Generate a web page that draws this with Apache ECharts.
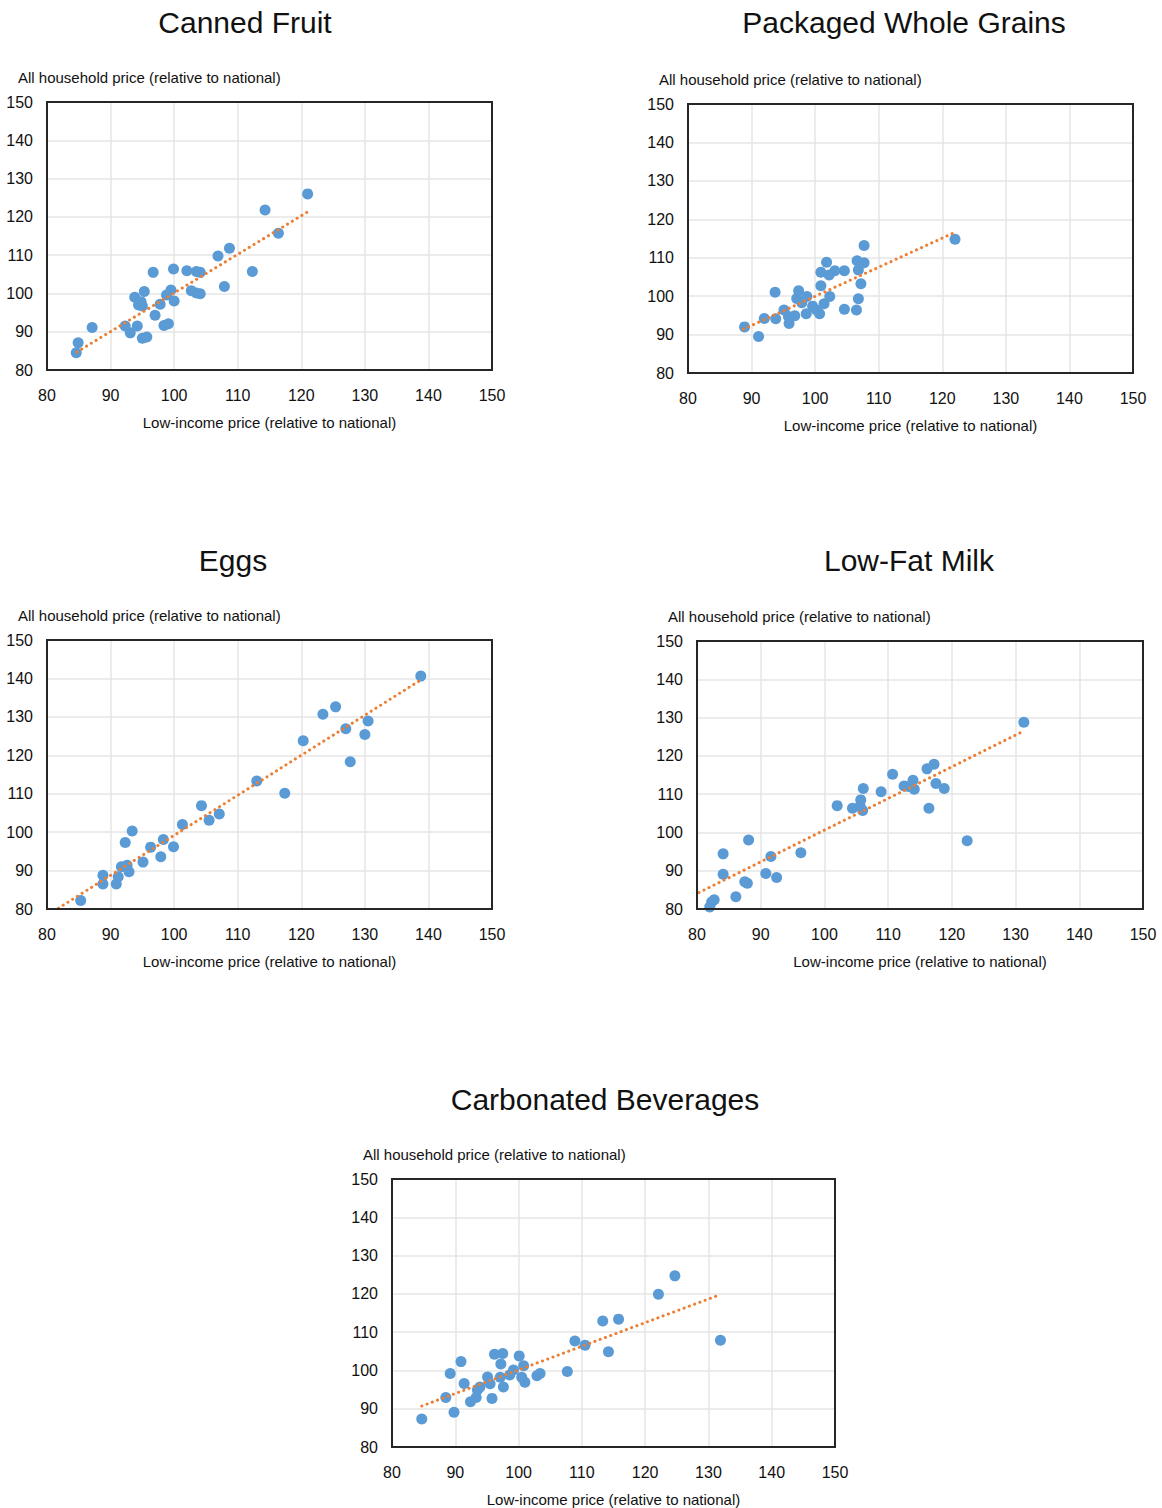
<!DOCTYPE html>
<html><head><meta charset="utf-8">
<script src="https://cdn.jsdelivr.net/npm/echarts@6/dist/echarts.min.js"></script>
<style>html,body{margin:0;padding:0;background:#fff}#c{width:1162px;height:1508px}</style>
</head><body><div id="c"></div>
<script>
// ---------- DATA ----------
const chartTitles = ['Canned Fruit', 'Packaged Whole Grains', 'Eggs', 'Low-Fat Milk', 'Carbonated Beverages'];
const xAxisName = 'Low-income price (relative to national)';
const yAxisName = 'All household price (relative to national)';
const tickLabels = [80, 90, 100, 110, 120, 130, 140, 150];

const cannedFruitX = [84.6, 84.9, 87.1, 92.3, 93.1, 94.2, 93.8, 94.4, 95.0, 94.8, 95.3, 95.0, 95.7, 96.7, 97.0, 97.8, 98.4, 99.1, 98.8, 99.5, 100.0, 99.9, 102.0, 103.5, 104.1, 102.7, 103.5, 104.1, 106.9, 108.7, 107.9, 112.3, 114.3, 116.4, 121.0];
const cannedFruitY = [84.5, 87.1, 91.1, 91.5, 89.7, 91.5, 99.0, 97.0, 96.7, 97.8, 100.5, 88.3, 88.6, 105.5, 94.3, 97.2, 91.6, 92.1, 99.6, 100.9, 98.0, 106.4, 105.9, 105.7, 105.5, 100.7, 100.1, 99.9, 109.8, 111.8, 101.8, 105.7, 121.8, 115.7, 126.0];
const cannedFruitTrend = [[84.7, 84.7], [121.0, 121.3]];

const wholeGrainsX = [88.9, 91.1, 92.0, 93.8, 93.7, 95.1, 95.8, 95.9, 96.8, 97.4, 97.1, 97.9, 98.7, 98.6, 99.6, 100.2, 100.7, 100.9, 100.9, 101.8, 102.2, 103.1, 104.6, 101.4, 102.3, 104.6, 106.5, 106.8, 107.2, 106.8, 106.6, 107.7, 107.7, 122.0];
const wholeGrainsY = [92.0, 89.5, 94.2, 94.1, 101.0, 96.4, 94.7, 92.9, 94.9, 101.4, 99.4, 98.3, 99.9, 95.4, 97.4, 96.4, 95.4, 102.7, 106.2, 108.8, 105.5, 106.6, 106.6, 98.0, 99.9, 96.6, 96.4, 99.3, 103.2, 106.8, 109.2, 108.7, 113.2, 114.8];
const wholeGrainsTrend = [[88.7, 91.4], [121.7, 116.4]];

const eggsX = [85.3, 88.8, 88.8, 90.9, 91.2, 91.7, 92.6, 92.9, 92.3, 93.4, 95.1, 96.3, 97.9, 98.3, 99.9, 101.3, 104.3, 105.5, 107.1, 113.0, 117.4, 120.3, 123.4, 125.4, 127.0, 127.7, 130.0, 130.5, 138.8];
const eggsY = [82.2, 88.8, 86.5, 86.5, 88.4, 91.0, 91.4, 89.7, 97.3, 100.3, 92.2, 96.1, 93.6, 98.1, 96.2, 102.0, 106.9, 103.1, 104.7, 113.3, 110.1, 123.8, 130.7, 132.6, 126.9, 118.3, 125.4, 128.9, 140.6];
const eggsTrend = [[81.8, 80.2], [138.8, 139.6]];

const lowFatMilkX = [82.0, 82.3, 82.7, 84.1, 84.1, 86.1, 87.5, 87.9, 88.1, 90.8, 91.6, 92.5, 96.3, 102.0, 104.4, 105.7, 105.6, 106.0, 106.1, 108.9, 110.7, 112.5, 113.9, 114.1, 113.2, 116.1, 117.2, 117.5, 118.8, 116.4, 122.4, 131.3];
const lowFatMilkY = [80.5, 81.8, 82.4, 94.4, 89.1, 83.2, 87.1, 86.7, 98.0, 89.3, 93.7, 88.2, 94.7, 107.0, 106.3, 108.5, 106.9, 105.7, 111.5, 110.6, 115.2, 112.1, 113.6, 111.3, 112.0, 116.6, 117.8, 112.8, 111.5, 106.3, 97.8, 128.8];
const lowFatMilkTrend = [[80.3, 84.3], [130.7, 126.0]];

const carbonatedX = [84.7, 88.5, 89.8, 89.2, 90.9, 91.4, 92.4, 93.3, 93.5, 93.9, 95.1, 95.5, 95.8, 96.2, 97.5, 97.2, 97.1, 97.6, 98.6, 99.2, 100.1, 100.8, 100.5, 101.0, 102.9, 103.4, 107.7, 108.9, 110.5, 113.3, 115.8, 114.2, 122.1, 124.7, 131.9];
const carbonatedY = [87.3, 92.9, 89.1, 99.2, 102.3, 96.6, 91.8, 92.9, 94.9, 95.7, 98.3, 96.5, 92.7, 104.2, 104.4, 101.7, 98.2, 95.7, 98.8, 100.1, 103.8, 101.2, 98.2, 96.9, 98.6, 99.2, 99.7, 107.7, 106.6, 112.9, 113.4, 104.9, 119.9, 124.7, 107.9];
const carbonatedTrend = [[84.7, 90.7], [131.7, 119.7]];

const panelData = [
  [cannedFruitX, cannedFruitY, cannedFruitTrend],
  [wholeGrainsX, wholeGrainsY, wholeGrainsTrend],
  [eggsX, eggsY, eggsTrend],
  [lowFatMilkX, lowFatMilkY, lowFatMilkTrend],
  [carbonatedX, carbonatedY, carbonatedTrend]
];

// ---------- LAYOUT ----------
const layout = [
  {left: 47,  top: 102,  width: 445, height: 268, titleX: 245, titleY: 22},
  {left: 688, top: 104,  width: 445, height: 269, titleX: 904, titleY: 22},
  {left: 47,  top: 640,  width: 445, height: 269, titleX: 233, titleY: 560},
  {left: 697, top: 641,  width: 446, height: 268, titleX: 909, titleY: 560},
  {left: 392, top: 1179, width: 443, height: 268, titleX: 605, titleY: 1099}
];

const FONT = "'Liberation Sans', Arial, sans-serif";
const BLUE = '#5B9BD5', ORANGE = '#ED7D31';

const grids = [], xAxes = [], yAxes = [], series = [], graphics = [];
layout.forEach((L, i) => {
  grids.push({left: L.left, top: L.top, width: L.width, height: L.height,
    containLabel: false, outerBoundsMode: 'none',
    show: true, borderColor: '#262626', borderWidth: 2, backgroundColor: 'transparent', z: 5});
  const axisCommon = {
    gridIndex: i, type: 'value', min: tickLabels[0], max: tickLabels[tickLabels.length - 1], interval: 10,
    axisLine: {show: false}, axisTick: {show: false},
    splitLine: {show: true, lineStyle: {color: '#e6e6e6', width: 1.5}},
    axisLabel: {color: '#111', fontSize: 16, fontFamily: FONT}
  };
  xAxes.push(Object.assign({}, axisCommon, {
    name: xAxisName, nameLocation: 'middle', nameGap: 45,
    nameTextStyle: {color: '#111', fontSize: 15, fontFamily: FONT},
    axisLabel: Object.assign({}, axisCommon.axisLabel, {margin: 17})
  }));
  yAxes.push(Object.assign({}, axisCommon, {
    name: yAxisName, nameLocation: 'end', nameGap: 25,
    nameTextStyle: {color: '#111', fontSize: 15, fontFamily: FONT, align: 'left', verticalAlign: 'middle', padding: [0, 0, 0, -29]},
    axisLabel: Object.assign({}, axisCommon.axisLabel, {margin: 14})
  }));
  const [xs, ys, trend] = panelData[i];
  series.push({
    type: 'scatter', xAxisIndex: i, yAxisIndex: i,
    data: xs.map((x, k) => [x, ys[k]]),
    symbolSize: 11, itemStyle: {color: BLUE, opacity: 1}, z: 2
  });
  series.push({
    type: 'line', xAxisIndex: i, yAxisIndex: i, data: trend,
    showSymbol: false, symbol: 'none', silent: true,
    lineStyle: {color: ORANGE, width: 3, type: [0.1, 5.5], cap: 'round'}, z: 3
  });
  graphics.push({
    type: 'text', x: L.titleX, y: L.titleY,
    style: {text: chartTitles[i], fill: '#111', font: "30px " + FONT, textAlign: 'center', textVerticalAlign: 'middle'}
  });
});

const chart = echarts.init(document.getElementById('c'), null, {renderer: 'svg'});
chart.setOption({
  animation: false,
  backgroundColor: '#fff',
  grid: grids, xAxis: xAxes, yAxis: yAxes, series: series, graphic: graphics
});
</script>
</body></html>
